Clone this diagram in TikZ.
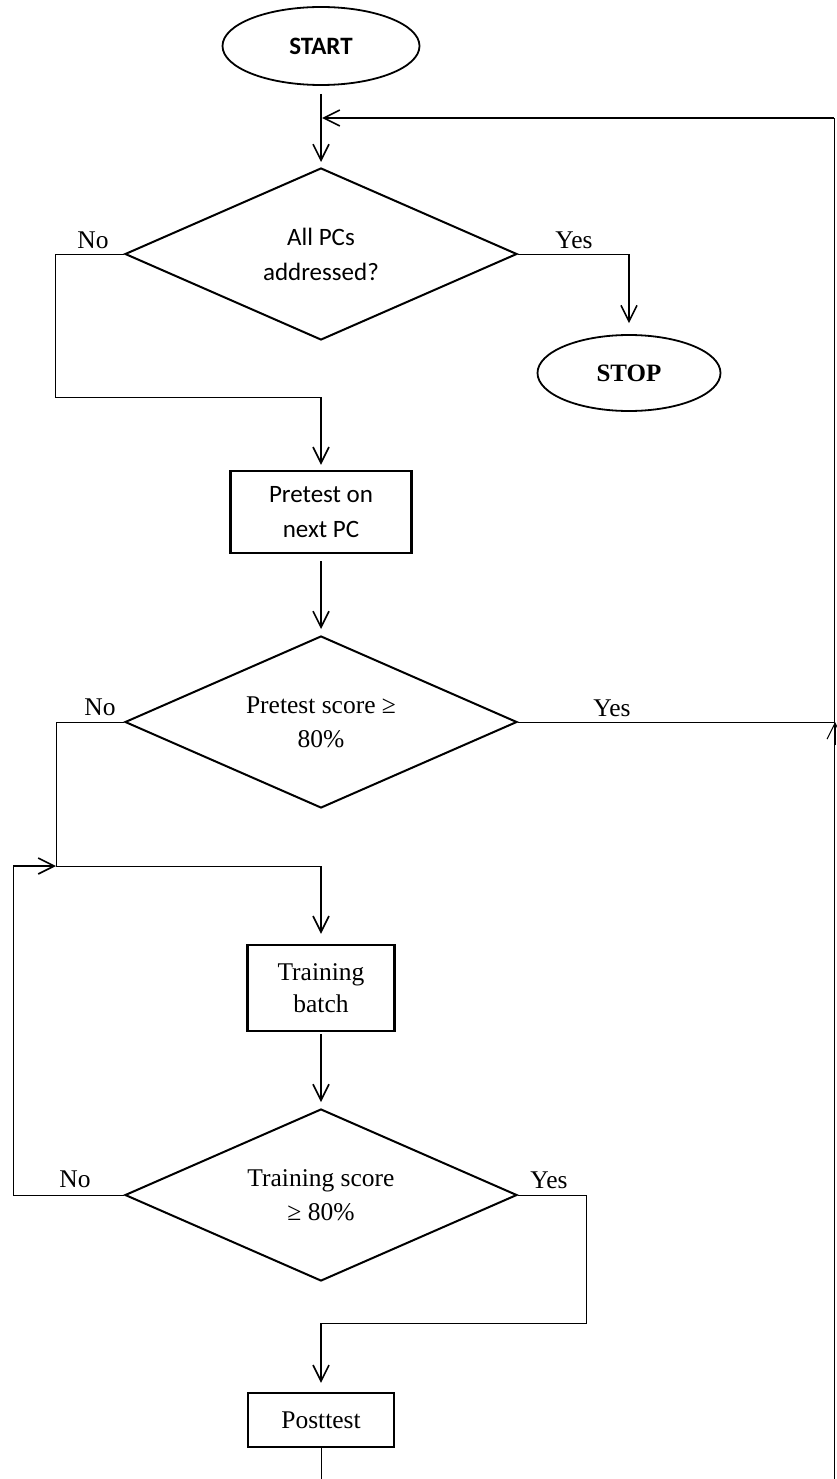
\documentclass[tikz,border=0pt]{standalone}
\usepackage{fontspec}
\setmainfont{Liberation Serif}
\newfontfamily\calibri{Carlito}
\usetikzlibrary{shapes.geometric, arrows.meta}
\begin{document}
\begin{tikzpicture}[x=1pt, y=-1pt,
  conn/.style={line width=1pt},
  arr/.style={line width=1.6pt, -{Straight Barb[length=16pt,width=16pt]}},
  dia/.style={diamond, draw, line width=2pt, aspect=2.28, minimum width=392pt, minimum height=172pt, inner sep=0pt, align=center},
  box/.style={rectangle, draw, line width=2.4pt, align=center, inner sep=0pt},
  term/.style={ellipse, draw, line width=1.8pt, inner sep=0pt},
  lbl/.style={font=\fontsize{25.5}{30}\selectfont, inner sep=0pt},
  sansf/.style={font=\calibri\fontsize{25}{35}\selectfont},
  serif/.style={font=\fontsize{25.5}{34}\selectfont}
]
\useasboundingbox (0,0) rectangle (836,1479);

% nodes
\node[term, minimum width=197pt, minimum height=78pt, font=\calibri\bfseries\fontsize{25}{30}\selectfont] (start) at (321,46) {START};
\node[dia, sansf] (d1) at (321,254) {All PCs\\addressed?};
\node[term, minimum width=183pt, minimum height=76pt, font=\bfseries\fontsize{25}{30}\selectfont] (stop) at (629,373) {STOP};
\node[box, sansf, minimum width=181pt, minimum height=82pt] (pre) at (321,512) {Pretest on\\next PC};
\node[dia, serif] (d2) at (321,722) {Pretest score ≥\\80\%};
\node[box, font=\fontsize{25.5}{32}\selectfont, minimum width=147pt, minimum height=86pt] (train) at (321,988) {Training\\batch};
\node[dia, serif] (d3) at (321,1195) {Training score\\≥ 80\%};
\node[box, serif, minimum width=146pt, minimum height=54pt] (post) at (321,1420) {Posttest};

% labels
\node[lbl] (no1) at (93,240) {No};
\node[lbl] (yes1) at (574,240) {Yes};
\node[lbl] (no2) at (100,707) {No};
\node[lbl] (yes2) at (612,708) {Yes};
\node[lbl] (no3) at (75,1179) {No};
\node[lbl] (yes3) at (549,1180) {Yes};

% coordinates
\coordinate (rb) at (834,1479);
\coordinate (rt) at (834,118);
\coordinate (fb) at (321,118);
\coordinate (j2) at (835,722);
\coordinate (j2b) at (835,745);
\coordinate (n1a) at (55,254);
\coordinate (n1b) at (55,397);
\coordinate (k1) at (321,397);
\coordinate (y1) at (629,254);
\coordinate (n2a) at (56,722);
\coordinate (n2b) at (56,866);
\coordinate (k2) at (321,866);
\coordinate (n3a) at (13,1195);
\coordinate (n3b) at (13,866);
\coordinate (y3a) at (586,1195);
\coordinate (y3b) at (586,1323);
\coordinate (k3) at (321,1323);
\coordinate (pend) at (321,1479);

% connectors
\draw[arr, shorten <=8pt, shorten >=5pt] (start.south) -- (d1.north);
\draw[conn] (rb) -- (rt);
\draw[arr, shorten >=1pt] (rt) -- (fb);
\draw[conn] (d1.west) -- (n1a) -- (n1b) -- (k1);
\draw[arr, shorten >=5pt] (k1) -- (pre.north);
\draw[conn] (d1.east) -- (y1);
\draw[arr, shorten >=11pt] (y1) -- (stop.north);
\draw[arr, shorten <=7pt, shorten >=6pt] (pre.south) -- (d2.north);
\draw[conn] (d2.east) -- (j2);
\draw[arr, line width=1pt] (j2b) -- (j2);
\draw[conn] (d2.west) -- (n2a) -- (n2b) -- (k2);
\draw[arr, shorten >=10pt] (k2) -- (train.north);
\draw[conn] (d3.west) -- (n3a) -- (n3b);
\draw[arr] (n3b) -- (n2b);
\draw[arr, shorten <=2pt, shorten >=6pt] (train.south) -- (d3.north);
\draw[conn] (d3.east) -- (y3a) -- (y3b) -- (k3);
\draw[arr, shorten >=9pt] (k3) -- (post.north);
\draw[conn] (post.south) -- (pend);
\end{tikzpicture}
\end{document}
